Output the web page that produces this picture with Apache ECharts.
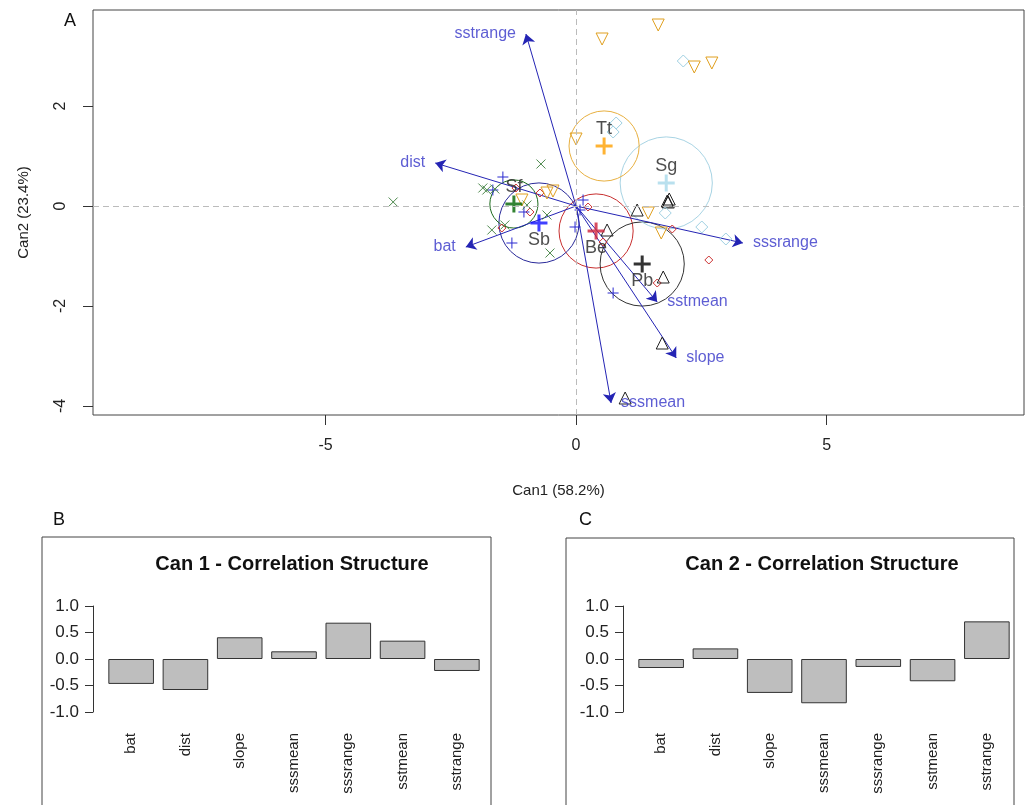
<!DOCTYPE html>
<html><head><meta charset="utf-8">
<script src="https://cdn.jsdelivr.net/npm/echarts@6/dist/echarts.min.js"></script>
<style>html,body{margin:0;padding:0;background:#fff}#c{width:1031px;height:805px}</style>
</head><body><div id="c"></div>
<script>
// ---- data ----
const groups = ['Be','Pb','Sb','Sf','Sg','Tt'];
const beX = [2.65, 1.62, 0.54, 0.24, 1.92, -0.72, -0.92, -1.48, -1.20];
const beY = [-1.08, -1.54, -0.72, -0.02, -0.46, 0.26, -0.12, -0.44, 0.36];
const pbX = [1.22, 1.82, 1.86, 1.84, 0.62, 1.74, 1.72, 0.98];
const pbY = [-0.08, 0.10, 0.14, 0.08, -0.48, -1.42, -2.74, -3.84];
const sbX = [-1.46, -1.28, 0.74, -0.02, 0.08, 0.14, -1.66, -1.04];
const sbY = [0.58, -0.74, -1.74, -0.42, -0.08, 0.12, 0.32, -0.12];
const sfX = [-3.65, -0.70, -1.86, -1.78, -1.62, -0.98, -1.68, -0.52, -1.42, -0.58];
const sfY = [0.08, 0.84, 0.36, 0.32, 0.34, 0.02, -0.48, -0.94, -0.38, -0.18];
const sgX = [2.14, 0.80, 0.74, 1.78, 2.51, 2.99];
const sgY = [2.90, 1.66, 1.48, -0.14, -0.42, -0.66];
const ttX = [1.64, 0.52, 2.36, 2.71, 0.00, -0.46, -0.58, -1.08, 1.44, 1.70];
const ttY = [3.62, 3.34, 2.78, 2.86, 1.34, 0.30, 0.26, 0.12, -0.14, -0.54];
const centroidX = [0.40, 1.32, -0.74, -1.24, 1.80, 0.56];
const centroidY = [-0.50, -1.16, -0.34, 0.04, 0.46, 1.20];
const circleR = [0.74, 0.84, 0.80, 0.48, 0.92, 0.70];
const variables = ['bat','dist','slope','sssmean','sssrange','sstmean','sstrange'];
const arrowX = [-2.20, -2.81, 2.00, 0.70, 3.33, 1.62, -1.00];
const arrowY = [-0.82, 0.86, -3.04, -3.94, -0.74, -1.92, 3.44];
const can1 = [-0.47, -0.585, 0.41, 0.145, 0.685, 0.346, -0.226];
const can2 = [-0.17, 0.20, -0.64, -0.835, -0.15, -0.42, 0.71];
const xTicks = [-5, 0, 5];
const yTicks = [-4, -2, 0, 2];

// ---- styling ----
const FONT = '"Liberation Sans", Arial, sans-serif';
const ptColor = ['#cc3333', '#222222', '#2a2ad0', '#4f8a4f', '#9fd0e2', '#e0a020'];
const cenColor = ['#d0203a', '#000000', '#1010ff', '#006400', '#a8d8ea', '#ffa000'];
const circColor = ['#c83030', '#333333', '#2a2a9a', '#1d6b1d', '#a8d4e4', '#e8b040'];
const PLUS = 'path://M0,5L10,5M5,0L5,10';
const CROSS = 'path://M0,0L10,10M10,0L0,10';
const ptSym = ['diamond', 'triangle', PLUS, CROSS, 'diamond', 'triangle'];
const ptSize = [8, 12, 11, 9, 12, 12];
const ptRot = [0, 0, 0, 0, 0, 180];
const ptXs = [beX, pbX, sbX, sfX, sgX, ttX];
const ptYs = [beY, pbY, sbY, sfY, sgY, ttY];
const cenLabelPos = ['bottom', 'bottom', 'bottom', 'top', 'top', 'top'];

const chart = echarts.init(document.getElementById('c'), null, {renderer: 'canvas'});

const series = [];
// dashed reference lines
series.push({
  type: 'scatter', xAxisIndex: 0, yAxisIndex: 0, data: [], silent: true,
  markLine: {silent: true, symbol: 'none', label: {show: false}, animation: false,
    lineStyle: {type: [6, 4], color: '#bbbbbb', width: 1},
    data: [{xAxis: 0}, {yAxis: 0}]}
});
// circles around centroids
series.push({
  type: 'custom', xAxisIndex: 0, yAxisIndex: 0, silent: true,
  data: groups.map((g, i) => [centroidX[i], centroidY[i], circleR[i], i]),
  renderItem: function (params, api) {
    const c = api.coord([api.value(0), api.value(1)]);
    const s = api.size([api.value(2), api.value(2)]);
    return {type: 'circle', shape: {cx: c[0], cy: c[1], r: s[0]},
      style: {fill: 'none', stroke: circColor[api.value(3)], lineWidth: 1}};
  }
});
// points per group
groups.forEach((g, i) => {
  series.push({
    type: 'scatter', name: g, xAxisIndex: 0, yAxisIndex: 0,
    symbol: ptSym[i], symbolSize: ptSize[i], symbolRotate: ptRot[i],
    itemStyle: {color: 'transparent', borderColor: ptColor[i], borderWidth: 1, opacity: 1},
    data: ptXs[i].map((x, k) => [x, ptYs[i][k]])
  });
});
// arrows
series.push({
  type: 'lines', coordinateSystem: 'cartesian2d', xAxisIndex: 0, yAxisIndex: 0,
  symbol: ['none', 'arrow'], symbolSize: 10, silent: true,
  lineStyle: {color: '#2424b4', width: 1, opacity: 1},
  data: variables.map((v, i) => ({coords: [[0, 0], [arrowX[i], arrowY[i]]]}))
});
// arrow labels
series.push({
  type: 'scatter', xAxisIndex: 0, yAxisIndex: 0, symbolSize: 0, silent: true,
  data: variables.map((v, i) => ({name: v, value: [arrowX[i], arrowY[i]],
    label: {position: arrowX[i] < 0 ? 'left' : 'right'}})),
  label: {show: true, formatter: '{b}', color: '#3535c8', fontSize: 16, fontFamily: FONT, distance: 10}
});
// centroids
series.push({
  type: 'scatter', xAxisIndex: 0, yAxisIndex: 0, symbol: PLUS, symbolSize: 17, silent: true,
  data: groups.map((g, i) => ({name: g, value: [centroidX[i], centroidY[i]],
    itemStyle: {color: 'transparent', borderColor: cenColor[i], borderWidth: 3},
    label: {position: cenLabelPos[i]}})),
  label: {show: true, formatter: '{b}', color: '#222', fontSize: 18, fontFamily: FONT, distance: -2}
});
// bars
series.push({
  type: 'bar', xAxisIndex: 1, yAxisIndex: 1, data: can1, barCategoryGap: '16%',
  itemStyle: {color: '#bebebe', borderColor: '#333', borderWidth: 1}, silent: true
});
series.push({
  type: 'bar', xAxisIndex: 2, yAxisIndex: 2, data: can2, barCategoryGap: '16%',
  itemStyle: {color: '#bebebe', borderColor: '#333', borderWidth: 1}, silent: true
});

const barY = (gi) => ({
  type: 'value', gridIndex: gi, min: -1, max: 1, interval: 0.5, offset: 11,
  splitLine: {show: false},
  axisLine: {show: true, lineStyle: {color: '#333'}},
  axisTick: {show: true, length: 8, lineStyle: {color: '#333'}},
  axisLabel: {formatter: v => v.toFixed(1), fontSize: 17, color: '#222', fontFamily: FONT, margin: 14}
});
const barX = (gi) => ({
  type: 'category', gridIndex: gi, data: variables,
  axisLine: {show: false}, axisTick: {show: false},
  axisLabel: {rotate: 90, fontSize: 15, color: '#222', fontFamily: FONT, margin: 21, interval: 0}
});

const option = {
  animation: false,
  backgroundColor: '#ffffff',
  grid: [
    {left: 93, top: 10, width: 931, height: 405, show: true, borderColor: '#444', borderWidth: 1,
      backgroundColor: 'transparent', outerBoundsMode: 'none'},
    {left: 104, top: 606, width: 380, height: 106, outerBoundsMode: 'none'},
    {left: 634, top: 606, width: 380, height: 106, outerBoundsMode: 'none'}
  ],
  xAxis: [
    {type: 'value', gridIndex: 0, min: -9.64, max: 8.94,
      name: 'Can1 (58.2%)', nameLocation: 'middle', nameGap: 68,
      nameTextStyle: {fontSize: 15, color: '#222', fontFamily: FONT},
      splitLine: {show: false}, axisLine: {show: false, onZero: false},
      axisTick: {show: true, customValues: xTicks, length: 10, lineStyle: {color: '#333'}},
      axisLabel: {customValues: xTicks, fontSize: 16, color: '#222', fontFamily: FONT, margin: 23}},
    barX(1), barX(2)
  ],
  yAxis: [
    {type: 'value', gridIndex: 0, min: -4.18, max: 3.92,
      name: 'Can2 (23.4%)', nameLocation: 'middle', nameGap: 62, nameRotate: 90,
      nameTextStyle: {fontSize: 15, color: '#222', fontFamily: FONT},
      splitLine: {show: false}, axisLine: {show: false, onZero: false},
      axisTick: {show: true, customValues: yTicks, length: 10, lineStyle: {color: '#333'}},
      axisLabel: {customValues: yTicks, rotate: 90, fontSize: 16, color: '#222', fontFamily: FONT, margin: 24}},
    barY(1), barY(2)
  ],
  graphic: [
    {type: 'text', left: 64, top: 12, style: {text: 'A', fontSize: 18, fill: '#111', fontFamily: FONT}},
    {type: 'text', left: 53, top: 511, style: {text: 'B', fontSize: 18, fill: '#111', fontFamily: FONT}},
    {type: 'text', left: 579, top: 511, style: {text: 'C', fontSize: 18, fill: '#111', fontFamily: FONT}},
    {type: 'rect', shape: {x: 42, y: 537, width: 449, height: 300}, style: {fill: 'none', stroke: '#444', lineWidth: 1}},
    {type: 'rect', shape: {x: 566, y: 538, width: 448, height: 300}, style: {fill: 'none', stroke: '#444', lineWidth: 1}},
    {type: 'text', x: 292, y: 564, style: {text: 'Can 1 - Correlation Structure', fontSize: 20, fontWeight: 'bold',
      fill: '#111', fontFamily: FONT, textAlign: 'center', textVerticalAlign: 'middle'}},
    {type: 'text', x: 822, y: 564, style: {text: 'Can 2 - Correlation Structure', fontSize: 20, fontWeight: 'bold',
      fill: '#111', fontFamily: FONT, textAlign: 'center', textVerticalAlign: 'middle'}}
  ],
  series: series
};
chart.setOption(option);
</script></body></html>
